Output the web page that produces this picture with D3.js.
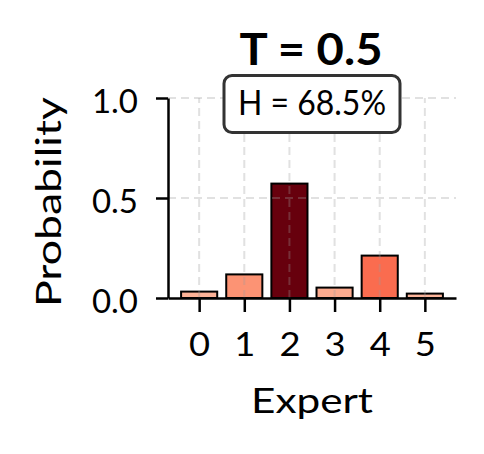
<!DOCTYPE html>
<html>
<head>
<meta charset="utf-8">
<script src="https://cdn.jsdelivr.net/npm/d3@7"></script>
<style>
  body { margin: 0; background: #fff; }
  text { font-family: Lato, "Noto Sans", sans-serif; fill: #000; }
</style>
</head>
<body>
<svg id="chart"></svg>
<script>
// data
const experts = ["0", "1", "2", "3", "4", "5"];
const probs = [0.032, 0.118, 0.572, 0.052, 0.212, 0.022];
const yTicks = [0.0, 0.5, 1.0];
const title = "T = 0.5";
const entropyLabel = "H = 68.5%";

const width = 484, height = 454;
const margin = { top: 98, right: 28, bottom: 156, left: 168 };
const innerW = width - margin.left - margin.right;
const innerH = height - margin.top - margin.bottom;

const svg = d3.select("#chart")
    .attr("width", width)
    .attr("height", height);

const g = svg.append("g")
    .attr("transform", `translate(${margin.left} ${margin.top})`);

// bar centres on integer positions, width 0.8, plus 5% margin like matplotlib
const n = experts.length;
const pad = (n - 1 + 0.8) * 0.05;
const x = d3.scaleLinear()
    .domain([-0.4 - pad, n - 1 + 0.4 + pad])
    .range([0, innerW]);

const y = d3.scaleLinear()
    .domain([0, 1])
    .range([innerH, 0]);

const vmax = d3.max(probs);
const colorT = d3.scalePow().exponent(1.15)
    .domain([0, vmax])
    .range([0.25, 1]);
const color = v => d3.interpolateReds(colorT(v));

//Balken
g.append("g").attr("class", "bars")
    .selectAll("rect")
    .data(probs)
    .enter()
    .append("rect")
    .attr("x", (d, i) => x(i - 0.4))
    .attr("width", (d, i) => x(i + 0.4) - x(i - 0.4))
    .attr("y", d => y(d))
    .attr("height", d => y(0) - y(d))
    .attr("fill", d => color(d))
    .attr("stroke", "#000")
    .attr("stroke-width", 2);

//Gitter (on top, semi transparent)
const grid = g.append("g").attr("class", "grid")
    .attr("stroke", "#9a9a9a")
    .attr("stroke-opacity", 0.3)
    .attr("stroke-width", 2)
    .attr("stroke-dasharray", "8,5");

grid.selectAll("line.v")
    .data(experts)
    .enter()
    .append("line")
    .attr("class", "v")
    .attr("x1", (d, i) => x(i))
    .attr("x2", (d, i) => x(i))
    .attr("y1", y(0))
    .attr("y2", y(1));

grid.selectAll("line.h")
    .data(yTicks.slice(1))
    .enter()
    .append("line")
    .attr("class", "h")
    .attr("x1", 0)
    .attr("x2", innerW)
    .attr("y1", d => y(d))
    .attr("y2", d => y(d));

//Achsen
const xAxis = d3.axisBottom(x)
    .tickValues(d3.range(n))
    .tickFormat(i => experts[i])
    .tickSize(14)
    .tickPadding(21)
    .tickSizeOuter(0);

const yAxis = d3.axisLeft(y)
    .tickValues(yTicks)
    .tickFormat(d3.format(".1f"))
    .tickSize(12)
    .tickPadding(18)
    .tickSizeOuter(0);

const gx = g.append("g")
    .attr("transform", `translate(0 ${innerH})`)
    .call(xAxis);

const gy = g.append("g")
    .call(yAxis);

[gx, gy].forEach(a => {
    a.select(".domain").attr("stroke", "#000").attr("stroke-width", 2.5);
    a.selectAll(".tick line").attr("stroke", "#000").attr("stroke-width", 2.5);
    a.selectAll(".tick text")
        .attr("font-family", "Lato, 'Noto Sans', sans-serif")
        .attr("font-size", 33)
        .attr("fill", "#000");
});
gy.selectAll(".tick text").attr("dy", "0.45em");
gx.selectAll(".tick text").attr("transform", "scale(1.1 1)");

//Beschriftungen
svg.append("text")
    .attr("x", margin.left + innerW / 2 - 1)
    .attr("y", 65)
    .attr("text-anchor", "middle")
    .attr("font-size", 44)
    .attr("font-weight", "bold")
    .attr("textLength", 143)
    .attr("lengthAdjust", "spacingAndGlyphs")
    .text(title);

svg.append("text")
    .attr("x", margin.left + innerW / 2)
    .attr("y", 413)
    .attr("text-anchor", "middle")
    .attr("font-size", 35)
    .attr("textLength", 122)
    .attr("lengthAdjust", "spacingAndGlyphs")
    .text("Expert");

svg.append("text")
    .attr("transform", `translate(61 202) rotate(-90)`)
    .attr("text-anchor", "middle")
    .attr("font-size", 34)
    .attr("textLength", 210)
    .attr("lengthAdjust", "spacingAndGlyphs")
    .text("Probability");

//Entropie-Box
const note = g.append("g")
    .attr("transform", `translate(${innerW / 2} ${y(0.97)})`);

note.append("rect")
    .attr("x", -88)
    .attr("width", 176)
    .attr("y", -28.5)
    .attr("height", 57)
    .attr("rx", 8)
    .attr("fill", "#fff")
    .attr("stroke", "#333")
    .attr("stroke-width", 3);

note.append("text")
    .attr("text-anchor", "middle")
    .attr("y", 11)
    .attr("font-size", 35)
    .attr("textLength", 148)
    .attr("lengthAdjust", "spacingAndGlyphs")
    .text(entropyLabel);
</script>
</body>
</html>
